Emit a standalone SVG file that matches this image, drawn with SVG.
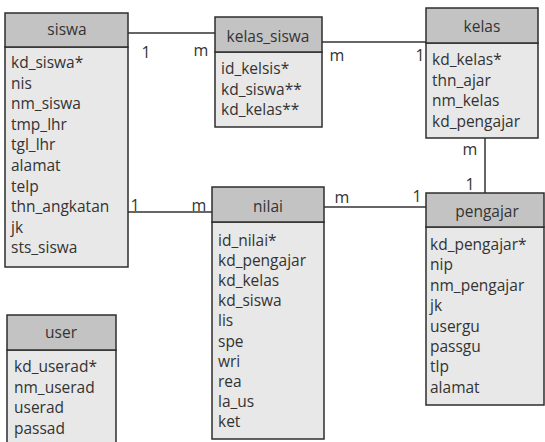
<svg xmlns="http://www.w3.org/2000/svg" width="545" height="442" viewBox="0 0 545 442">
<style>
.hd{fill:#c3c3c3;stroke:#2e2e2e;stroke-width:1.5}
.bd{fill:#e8e8e8;stroke:#2e2e2e;stroke-width:1.5}
text{font-family:"Open Sans","Noto Sans",sans-serif;font-size:15.5px;fill:#333}
.t{text-anchor:middle}
.c{fill:none;stroke:#333;stroke-width:1.5}
.lb{font-size:16px}
</style>
<rect width="545" height="442" fill="#ffffff"/>
<g id="connectors">
<path class="c" d="M128 33H215"/>
<path class="c" d="M322 42H426"/>
<path class="c" d="M485 138V197"/>
<path class="c" d="M125 212H212"/>
<path class="c" d="M324 207H426"/>
<text class="lb t" x="146" y="58">1</text>
<text class="lb t" x="201" y="56">m</text>
<text class="lb t" x="337" y="61">m</text>
<text class="lb t" x="420" y="61">1</text>
<text class="lb t" x="470" y="155">m</text>
<text class="lb t" x="470" y="190">1</text>
<text class="lb t" x="135" y="211">1</text>
<text class="lb t" x="199" y="211">m</text>
<text class="lb t" x="342" y="203">m</text>
<text class="lb t" x="417" y="202">1</text>
</g>
<g id="siswa">
<rect class="bd" x="5" y="47" width="123" height="220"/>
<rect class="hd" x="5" y="13" width="123" height="34"/>
<text class="t" x="67" y="35">siswa</text>
<text x="11" y="68">kd_siswa*</text>
<text x="11" y="88.6">nis</text>
<text x="11" y="109.2">nm_siswa</text>
<text x="11" y="129.8">tmp_lhr</text>
<text x="11" y="150.4">tgl_lhr</text>
<text x="11" y="171">alamat</text>
<text x="11" y="191.6">telp</text>
<text x="11" y="212.2">thn_angkatan</text>
<text x="11" y="232.8">jk</text>
<text x="11" y="253.4">sts_siswa</text>
</g>
<g id="kelas_siswa">
<rect class="bd" x="215" y="52" width="107" height="75"/>
<rect class="hd" x="215" y="17" width="107" height="35"/>
<text class="t" x="268" y="42">kelas_siswa</text>
<text x="221" y="74">id_kelsis*</text>
<text x="221" y="94.5">kd_siswa**</text>
<text x="221" y="115">kd_kelas**</text>
</g>
<g id="kelas">
<rect class="bd" x="426" y="43" width="112" height="95"/>
<rect class="hd" x="426" y="8" width="112" height="35"/>
<text class="t" x="482" y="32">kelas</text>
<text x="432" y="65">kd_kelas*</text>
<text x="432" y="85.5">thn_ajar</text>
<text x="432" y="106">nm_kelas</text>
<text x="432" y="126.5">kd_pengajar</text>
</g>
<g id="nilai">
<rect class="bd" x="212" y="222" width="112" height="217"/>
<rect class="hd" x="212" y="187" width="112" height="35"/>
<text class="t" x="268" y="212">nilai</text>
<text x="218" y="246">id_nilai*</text>
<text x="218" y="266.1">kd_pengajar</text>
<text x="218" y="286.2">kd_kelas</text>
<text x="218" y="306.3">kd_siswa</text>
<text x="218" y="326.4">lis</text>
<text x="218" y="346.5">spe</text>
<text x="218" y="366.6">wri</text>
<text x="218" y="386.7">rea</text>
<text x="218" y="406.8">la_us</text>
<text x="218" y="426.9">ket</text>
</g>
<g id="pengajar">
<rect class="bd" x="426" y="227" width="118" height="178"/>
<rect class="hd" x="426" y="193" width="118" height="34"/>
<text class="t" x="487" y="217">pengajar</text>
<text x="430" y="250">kd_pengajar*</text>
<text x="430" y="270.4">nip</text>
<text x="430" y="290.8">nm_pengajar</text>
<text x="430" y="311.2">jk</text>
<text x="430" y="331.6">usergu</text>
<text x="430" y="352">passgu</text>
<text x="430" y="372.4">tlp</text>
<text x="430" y="392.8">alamat</text>
</g>
<g id="user">
<rect class="bd" x="7" y="350" width="109" height="100"/>
<rect class="hd" x="7" y="315" width="109" height="35"/>
<text class="t" x="61" y="338">user</text>
<text x="14" y="372">kd_userad*</text>
<text x="14" y="392.5">nm_userad</text>
<text x="14" y="413">userad</text>
<text x="14" y="433.5">passad</text>
</g>
</svg>
